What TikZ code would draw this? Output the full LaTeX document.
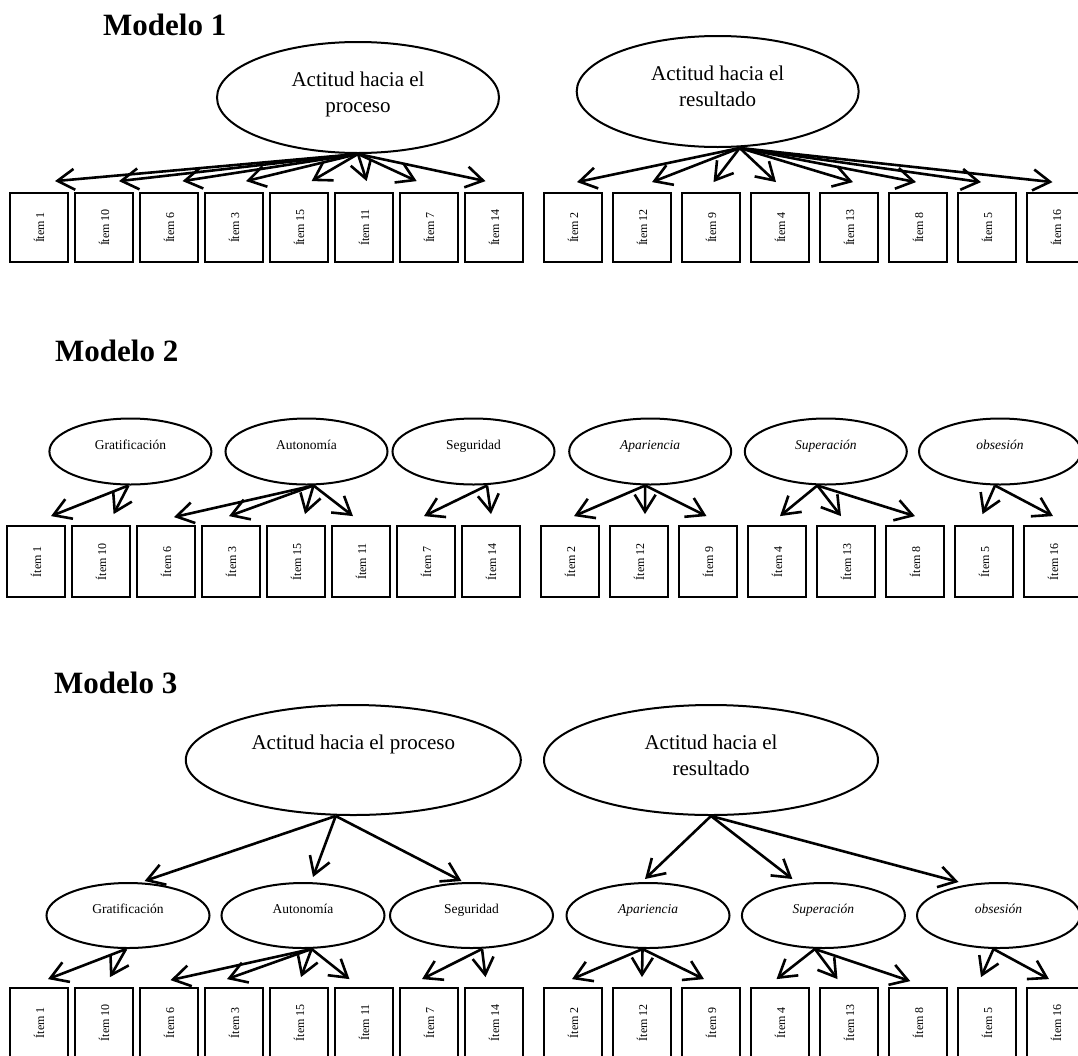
\documentclass[tikz,border=0pt]{standalone}
\usepackage{fontspec}
\setmainfont{Liberation Serif}
\usepackage{graphicx}
\usetikzlibrary{arrows.meta,shapes.geometric}

\tikzset{
  factorell/.style={ellipse, draw, line width=2pt, minimum width=162pt, minimum height=66pt,
    inner sep=0pt, font=\fontsize{13.5}{16}\selectfont, text height=10pt, text depth=15pt},
  genell/.style={ellipse, draw, line width=2pt, minimum width=282pt, minimum height=111pt,
    inner sep=0pt, align=center, font=\fontsize{21}{26}\selectfont, text height=15pt, text depth=37pt},
  twoline/.style={text height=41pt, text depth=11pt},
  itembox/.style={rectangle, draw, line width=1.8pt, minimum width=58pt, minimum height=69pt,
    inner sep=0pt, font=\fontsize{12}{14}\selectfont},
  loadarr/.style={line width=2.6pt, -{Straight Barb[length=17pt,width=21pt]}},
  modeltitle/.style={anchor=base west, inner sep=0pt, font=\fontsize{31}{36}\selectfont\bfseries},
}

\begin{document}
\begin{tikzpicture}[x=1pt, y=-1pt]
		\useasboundingbox (0,0) rectangle (1078,1055);

		% Modelo 1
		\node[modeltitle] (t1) at (103,35) {Modelo 1};
		\node[genell, twoline] (proc1) at (358,97.5) {Actitud hacia el\\proceso};
		\node[genell, twoline] (res1) at (717.7,91.5) {Actitud hacia el\\resultado};

		\node[itembox] (m1i1) at (39,227.5) {\rotatebox{90}{Ítem 1}};
		\node[itembox] (m1i10) at (104,227.5) {\rotatebox{90}{Ítem 10}};
		\node[itembox] (m1i6) at (169,227.5) {\rotatebox{90}{Ítem 6}};
		\node[itembox] (m1i3) at (234,227.5) {\rotatebox{90}{Ítem 3}};
		\node[itembox] (m1i15) at (299,227.5) {\rotatebox{90}{Ítem 15}};
		\node[itembox] (m1i11) at (364,227.5) {\rotatebox{90}{Ítem 11}};
		\node[itembox] (m1i7) at (429,227.5) {\rotatebox{90}{Ítem 7}};
		\node[itembox] (m1i14) at (494,227.5) {\rotatebox{90}{Ítem 14}};
		\node[itembox] (m1i2) at (573,227.5) {\rotatebox{90}{Ítem 2}};
		\node[itembox] (m1i12) at (642,227.5) {\rotatebox{90}{Ítem 12}};
		\node[itembox] (m1i9) at (711,227.5) {\rotatebox{90}{Ítem 9}};
		\node[itembox] (m1i4) at (780,227.5) {\rotatebox{90}{Ítem 4}};
		\node[itembox] (m1i13) at (849,227.5) {\rotatebox{90}{Ítem 13}};
		\node[itembox] (m1i8) at (918,227.5) {\rotatebox{90}{Ítem 8}};
		\node[itembox] (m1i5) at (987,227.5) {\rotatebox{90}{Ítem 5}};
		\node[itembox] (m1i16) at (1056,227.5) {\rotatebox{90}{Ítem 16}};

		\draw[loadarr] (proc1.south) -- ([xshift=16pt,yshift=11pt]m1i1.north);
		\draw[loadarr] (proc1.south) -- ([xshift=15pt,yshift=11pt]m1i10.north);
		\draw[loadarr] (proc1.south) -- ([xshift=13.5pt,yshift=11pt]m1i6.north);
		\draw[loadarr] (proc1.south) -- ([xshift=12pt,yshift=11pt]m1i3.north);
		\draw[loadarr] (proc1.south) -- ([xshift=12.6pt,yshift=11pt]m1i15.north);
		\draw[loadarr] (proc1.south) -- ([xshift=2.7pt,yshift=11pt]m1i11.north);
		\draw[loadarr] (proc1.south) -- ([xshift=-12.3pt,yshift=11pt]m1i7.north);
		\draw[loadarr] (proc1.south) -- ([xshift=-8.5pt,yshift=11pt]m1i14.north);
		\draw[loadarr] ([xshift=22pt]res1.south) -- ([xshift=4pt,yshift=10pt]m1i2.north);
		\draw[loadarr] ([xshift=22pt]res1.south) -- ([xshift=10pt,yshift=10pt]m1i12.north);
		\draw[loadarr] ([xshift=22pt]res1.south) -- ([xshift=2.5pt,yshift=10pt]m1i9.north);
		\draw[loadarr] ([xshift=22pt]res1.south) -- ([xshift=-4pt,yshift=10pt]m1i4.north);
		\draw[loadarr] ([xshift=22pt]res1.south) -- ([xshift=4pt,yshift=10pt]m1i13.north);
		\draw[loadarr] ([xshift=22pt]res1.south) -- ([xshift=-2pt,yshift=10pt]m1i8.north);
		\draw[loadarr] ([xshift=22pt]res1.south) -- ([xshift=-6pt,yshift=10pt]m1i5.north);
		\draw[loadarr] ([xshift=22pt]res1.south) -- ([xshift=-3.5pt,yshift=10pt]m1i16.north);

		% Modelo 2
		\node[modeltitle] (t2) at (55,361.5) {Modelo 2};
		\node[factorell] (grat2) at (130.4,451.5) {Gratificación};
		\node[factorell] (auto2) at (306.5,451.5) {Autonomía};
		\node[factorell] (seg2) at (473.5,451.5) {Seguridad};
		\node[factorell] (apar2) at (650.2,451.5) {\itshape Apariencia};
		\node[factorell] (sup2) at (825.8,451.5) {\itshape Superación};
		\node[factorell] (obs2) at (1000,451.5) {\itshape obsesión};

		\node[itembox, minimum height=71pt] (m2i1) at (36,561.5) {\rotatebox{90}{Ítem 1}};
		\node[itembox, minimum height=71pt] (m2i10) at (101,561.5) {\rotatebox{90}{Ítem 10}};
		\node[itembox, minimum height=71pt] (m2i6) at (166,561.5) {\rotatebox{90}{Ítem 6}};
		\node[itembox, minimum height=71pt] (m2i3) at (231,561.5) {\rotatebox{90}{Ítem 3}};
		\node[itembox, minimum height=71pt] (m2i15) at (296,561.5) {\rotatebox{90}{Ítem 15}};
		\node[itembox, minimum height=71pt] (m2i11) at (361,561.5) {\rotatebox{90}{Ítem 11}};
		\node[itembox, minimum height=71pt] (m2i7) at (426,561.5) {\rotatebox{90}{Ítem 7}};
		\node[itembox, minimum height=71pt] (m2i14) at (491,561.5) {\rotatebox{90}{Ítem 14}};
		\node[itembox, minimum height=71pt] (m2i2) at (570,561.5) {\rotatebox{90}{Ítem 2}};
		\node[itembox, minimum height=71pt] (m2i12) at (639,561.5) {\rotatebox{90}{Ítem 12}};
		\node[itembox, minimum height=71pt] (m2i9) at (708,561.5) {\rotatebox{90}{Ítem 9}};
		\node[itembox, minimum height=71pt] (m2i4) at (777,561.5) {\rotatebox{90}{Ítem 4}};
		\node[itembox, minimum height=71pt] (m2i13) at (846,561.5) {\rotatebox{90}{Ítem 13}};
		\node[itembox, minimum height=71pt] (m2i8) at (915,561.5) {\rotatebox{90}{Ítem 8}};
		\node[itembox, minimum height=71pt] (m2i5) at (984,561.5) {\rotatebox{90}{Ítem 5}};
		\node[itembox, minimum height=71pt] (m2i16) at (1053,561.5) {\rotatebox{90}{Ítem 16}};

		\draw[loadarr] ([xshift=-2pt]grat2.south) -- ([xshift=15pt,yshift=9pt]m2i1.north);
		\draw[loadarr] ([xshift=-2pt]grat2.south) -- ([xshift=12.6pt,yshift=11pt]m2i10.north);
		\draw[loadarr] ([xshift=7pt]auto2.south) -- ([xshift=8pt,yshift=8pt]m2i6.north);
		\draw[loadarr] ([xshift=7pt]auto2.south) -- ([xshift=-2pt,yshift=9pt]m2i3.north);
		\draw[loadarr] ([xshift=7pt]auto2.south) -- ([xshift=9pt,yshift=11pt]m2i15.north);
		\draw[loadarr] ([xshift=7pt]auto2.south) -- ([xshift=-8pt,yshift=9pt]m2i11.north);
		\draw[loadarr] ([xshift=13.5pt]seg2.south) -- ([xshift=-2pt,yshift=9pt]m2i7.north);
		\draw[loadarr] ([xshift=13.5pt]seg2.south) -- ([yshift=11pt]m2i14.north);
		\draw[loadarr] ([xshift=-5pt]apar2.south) -- ([xshift=4pt,yshift=9pt]m2i2.north);
		\draw[loadarr] ([xshift=-5pt]apar2.south) -- ([xshift=6pt,yshift=11pt]m2i12.north);
		\draw[loadarr] ([xshift=-5pt]apar2.south) -- ([xshift=-1.5pt,yshift=9pt]m2i9.north);
		\draw[loadarr] ([xshift=-8.5pt]sup2.south) -- ([xshift=3pt,yshift=9pt]m2i4.north);
		\draw[loadarr] ([xshift=-8.5pt]sup2.south) -- ([xshift=-5pt,yshift=9pt]m2i13.north);
		\draw[loadarr] ([xshift=-8.5pt]sup2.south) -- ([yshift=9pt]m2i8.north);
		\draw[loadarr] ([xshift=-5pt]obs2.south) -- ([xshift=-1.5pt,yshift=11pt]m2i5.north);
		\draw[loadarr] ([xshift=-5pt]obs2.south) -- ([yshift=9pt]m2i16.north);

		% Modelo 3
		\node[modeltitle] (t3) at (54,693) {Modelo 3};
		\node[genell, minimum width=335pt, minimum height=110pt] (proc3) at (353.3,760) {Actitud hacia el proceso};
		\node[genell, twoline, minimum width=334pt, minimum height=110pt] (res3) at (711,760) {Actitud hacia el\\resultado};
		\node[factorell, minimum width=163pt, minimum height=65pt] (grat3) at (128,915.5) {Gratificación};
		\node[factorell, minimum width=163pt, minimum height=65pt] (auto3) at (303,915.5) {Autonomía};
		\node[factorell, minimum width=163pt, minimum height=65pt] (seg3) at (471.5,915.5) {Seguridad};
		\node[factorell, minimum width=163pt, minimum height=65pt] (apar3) at (648,915.5) {\itshape Apariencia};
		\node[factorell, minimum width=163pt, minimum height=65pt] (sup3) at (823.4,915.5) {\itshape Superación};
		\node[factorell, minimum width=163pt, minimum height=65pt] (obs3) at (998.5,915.5) {\itshape obsesión};

		\draw[loadarr] ([xshift=-17.6pt]proc3.south) -- ([xshift=16.6pt,yshift=1pt]grat3.north);
		\draw[loadarr] ([xshift=-17.6pt]proc3.south) -- ([xshift=10pt,yshift=5pt]auto3.north);
		\draw[loadarr] ([xshift=-17.6pt]proc3.south) -- ([xshift=-10pt,yshift=1pt]seg3.north);
		\draw[loadarr] (res3.south) -- ([xshift=-3pt,yshift=3pt]apar3.north);
		\draw[loadarr] (res3.south) -- ([xshift=-31pt,yshift=3pt]sup3.north);
		\draw[loadarr] (res3.south) -- ([xshift=-40pt]obs3.north);

		\node[itembox] (m3i1) at (39,1022.5) {\rotatebox{90}{Ítem 1}};
		\node[itembox] (m3i10) at (104,1022.5) {\rotatebox{90}{Ítem 10}};
		\node[itembox] (m3i6) at (169,1022.5) {\rotatebox{90}{Ítem 6}};
		\node[itembox] (m3i3) at (234,1022.5) {\rotatebox{90}{Ítem 3}};
		\node[itembox] (m3i15) at (299,1022.5) {\rotatebox{90}{Ítem 15}};
		\node[itembox] (m3i11) at (364,1022.5) {\rotatebox{90}{Ítem 11}};
		\node[itembox] (m3i7) at (429,1022.5) {\rotatebox{90}{Ítem 7}};
		\node[itembox] (m3i14) at (494,1022.5) {\rotatebox{90}{Ítem 14}};
		\node[itembox] (m3i2) at (573,1022.5) {\rotatebox{90}{Ítem 2}};
		\node[itembox] (m3i12) at (642,1022.5) {\rotatebox{90}{Ítem 12}};
		\node[itembox] (m3i9) at (711,1022.5) {\rotatebox{90}{Ítem 9}};
		\node[itembox] (m3i4) at (780,1022.5) {\rotatebox{90}{Ítem 4}};
		\node[itembox] (m3i13) at (849,1022.5) {\rotatebox{90}{Ítem 13}};
		\node[itembox] (m3i8) at (918,1022.5) {\rotatebox{90}{Ítem 8}};
		\node[itembox] (m3i5) at (987,1022.5) {\rotatebox{90}{Ítem 5}};
		\node[itembox] (m3i16) at (1056,1022.5) {\rotatebox{90}{Ítem 16}};

		\draw[loadarr] ([xshift=-2pt]grat3.south) -- ([xshift=9pt,yshift=8pt]m3i1.north);
		\draw[loadarr] ([xshift=-2pt]grat3.south) -- ([xshift=6pt,yshift=10pt]m3i10.north);
		\draw[loadarr] ([xshift=8.6pt]auto3.south) -- ([xshift=1.5pt,yshift=7pt]m3i6.north);
		\draw[loadarr] ([xshift=8.6pt]auto3.south) -- ([xshift=-7pt,yshift=8pt]m3i3.north);
		\draw[loadarr] ([xshift=8.6pt]auto3.south) -- ([xshift=2pt,yshift=10pt]m3i15.north);
		\draw[loadarr] ([xshift=8.6pt]auto3.south) -- ([xshift=-14.5pt,yshift=8pt]m3i11.north);
		\draw[loadarr] ([xshift=10.5pt]seg3.south) -- ([xshift=-7pt,yshift=8pt]m3i7.north);
		\draw[loadarr] ([xshift=10.5pt]seg3.south) -- ([xshift=-8.5pt,yshift=10pt]m3i14.north);
		\draw[loadarr] ([xshift=-5.5pt]apar3.south) -- ([xshift=-1pt,yshift=8pt]m3i2.north);
		\draw[loadarr] ([xshift=-5.5pt]apar3.south) -- ([yshift=10pt]m3i12.north);
		\draw[loadarr] ([xshift=-5.5pt]apar3.south) -- ([xshift=-7pt,yshift=8pt]m3i9.north);
		\draw[loadarr] ([xshift=-8.5pt]sup3.south) -- ([xshift=-3.5pt,yshift=8pt]m3i4.north);
		\draw[loadarr] ([xshift=-8.5pt]sup3.south) -- ([xshift=-11.5pt,yshift=8pt]m3i13.north);
		\draw[loadarr] ([xshift=-8.5pt]sup3.south) -- ([xshift=-7.7pt,yshift=6pt]m3i8.north);
		\draw[loadarr] ([xshift=-5pt]obs3.south) -- ([xshift=-6pt,yshift=10pt]m3i5.north);
		\draw[loadarr] ([xshift=-5pt]obs3.south) -- ([xshift=-7pt,yshift=8pt]m3i16.north);
\end{tikzpicture}
\end{document}
